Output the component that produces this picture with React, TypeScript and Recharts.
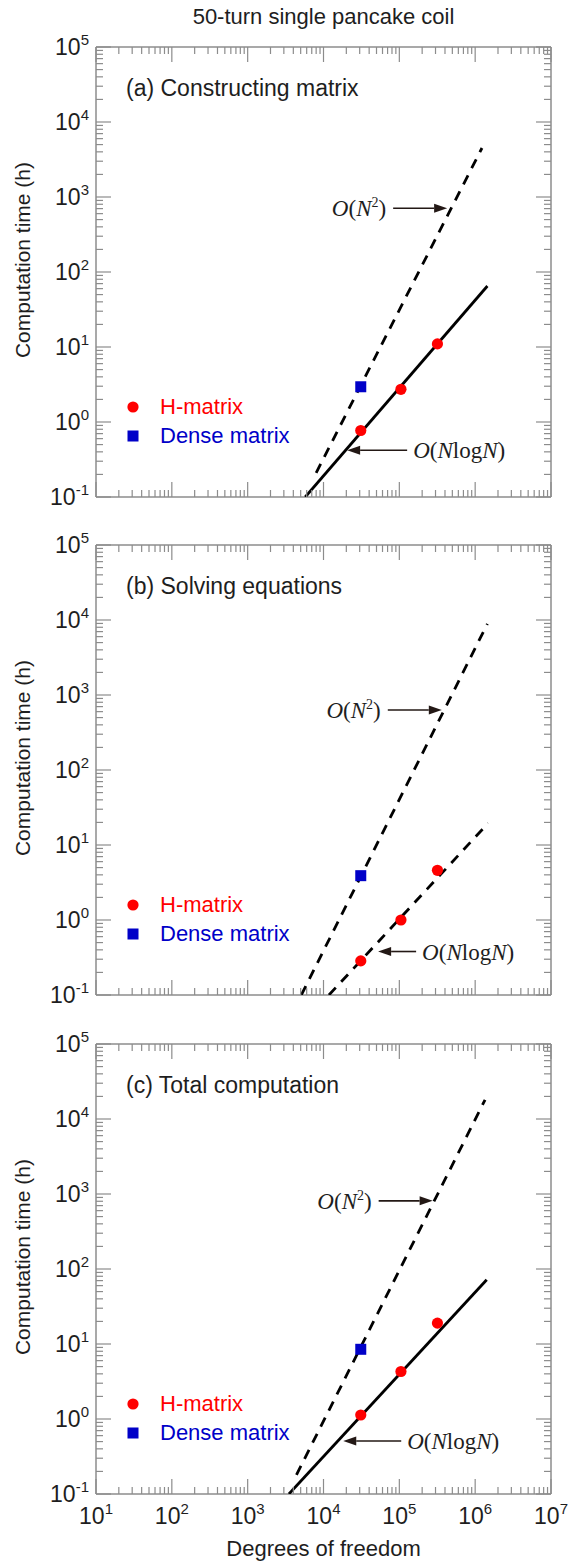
import React from 'react';
import { ComposedChart, Scatter, XAxis, YAxis } from 'recharts';

// degrees of freedom of the runs
const dofH = [31000, 105000, 318000];
const dofDense = [31000];

// computation time (h)
const constructH = [0.77, 2.73, 11];
const constructDense = [2.95];
const solveH = [0.285, 1.0, 4.6];
const solveDense = [3.9];
const totalH = [1.13, 4.3, 19];
const totalDense = [8.5];

// guide lines, start and end in (dof, hours)
const constructN2 = { dof: [8000, 1230000], time: [0.21, 4500] };
const constructNlogN = { dof: [5750, 1450000], time: [0.1, 65] };
const solveN2 = { dof: [5100, 1450000], time: [0.1, 8900] };
const solveNlogN = { dof: [11800, 1480000], time: [0.1, 19.5] };
const totalN2 = { dof: [4400, 1350000], time: [0.18, 18000] };
const totalNlogN = { dof: [3500, 1420000], time: [0.1, 72] };

// arrow tips of the O(...) notes
const constructTips = { n2: [427000, 708], nlogn: [20500, 0.42] };
const solveTips = { n2: [363000, 630], nlogn: [52500, 0.38] };
const totalTips = { n2: [275000, 810], nlogn: [18200, 0.51] };

// axis decades
const xExp = [1, 2, 3, 4, 5, 6, 7];
const yExp = [-1, 0, 1, 2, 3, 4, 5];

const GRAY = '#8c8c8c';
const INK = '#1e1e1e';
const RED = '#ff0000';
const BLUE = '#0000c8';
const SANS = '"Liberation Sans", Arial, sans-serif';
const SERIF = '"Liberation Serif", "Times New Roman", serif';

const decadeTicks = (exps: number[]) => {
  const out: number[] = [];
  exps.forEach((e, i) => {
    const b = Math.pow(10, e);
    out.push(b);
    if (i < exps.length - 1) for (let m = 2; m <= 9; m++) out.push(m * b);
  });
  return out;
};
const xTicks = decadeTicks(xExp);
const yTicks = decadeTicks(yExp);

const isMajor = (v: number) => Math.abs(Math.log10(v) - Math.round(Math.log10(v))) < 1e-6;
const expOf = (v: number) => Math.round(Math.log10(v));

const zip = (xs: number[], ys: number[]) => xs.map((x, i) => ({ x, y: ys[i] }));

const bottomTick = (showLabel: boolean) => (p: any) => {
  const { x, y, payload } = p;
  const major = isMajor(payload.value);
  return (
    <g>
      <line x1={x} x2={x} y1={y} y2={y - (major ? 15 : 7)} stroke={GRAY} strokeWidth={1.2} />
      {showLabel && major && (
        <text x={x} y={y + 30} textAnchor="middle" fontSize={23} fill={INK} fontFamily={SANS}>
          10<tspan dy={-10} fontSize={15}>{expOf(payload.value)}</tspan>
        </text>
      )}
    </g>
  );
};

const topTick = (p: any) => {
  const { x, y, payload } = p;
  const major = isMajor(payload.value);
  return <line x1={x} x2={x} y1={y} y2={y + (major ? 15 : 7)} stroke={GRAY} strokeWidth={1.2} />;
};

const leftTick = (p: any) => {
  const { x, y, payload } = p;
  const major = isMajor(payload.value);
  return (
    <g>
      <line x1={x} x2={x + (major ? 15 : 7)} y1={y} y2={y} stroke={GRAY} strokeWidth={1.2} />
      {major && (
        <text x={x - 7} y={y + 8} textAnchor="end" fontSize={23} fill={INK} fontFamily={SANS}>
          10<tspan dy={-10} fontSize={15}>{expOf(payload.value)}</tspan>
        </text>
      )}
    </g>
  );
};

const rightTick = (p: any) => {
  const { x, y, payload } = p;
  const major = isMajor(payload.value);
  return <line x1={x} x2={x - (major ? 15 : 7)} y1={y} y2={y} stroke={GRAY} strokeWidth={1.2} />;
};

function Note({ cx, cy, kind, len }: { cx: number; cy: number; kind: 'n2' | 'nlogn'; len: number }) {
  const head = 13;
  const dir = kind === 'n2' ? 1 : -1; // arrow points right for N^2, left for NlogN
  const tail = cx - dir * len;
  const base = cx - dir * head;
  return (
    <g>
      <line x1={tail} x2={base} y1={cy} y2={cy} stroke="#231815" strokeWidth={1.6} />
      <polygon points={`${cx},${cy} ${base},${cy - 4.5} ${base},${cy + 4.5}`} fill="#231815" />
      {kind === 'n2' ? (
        <text x={tail - 7} y={cy + 8} textAnchor="end" fontSize={23} fill={INK} fontFamily={SERIF}>
          <tspan fontStyle="italic">O</tspan>(<tspan fontStyle="italic">N</tspan>
          <tspan dy={-9} fontSize={14}>2</tspan>
          <tspan dy={9}>)</tspan>
        </text>
      ) : (
        <text x={tail + 6} y={cy + 8} textAnchor="start" fontSize={23} fill={INK} fontFamily={SERIF}>
          <tspan fontStyle="italic">O</tspan>(<tspan fontStyle="italic">N</tspan>log<tspan fontStyle="italic">N</tspan>)
        </text>
      )}
    </g>
  );
}

const Dot = (p: any) => <circle cx={p.cx} cy={p.cy} r={5.6} fill={RED} />;
const Square = (p: any) => <rect x={p.cx - 5.5} y={p.cy - 5.5} width={11} height={11} fill={BLUE} />;
const Empty = () => <g />;

type Guide = { dof: number[]; time: number[] };

interface PanelProps {
  top: number;
  height: number;
  plotTop: number;
  plotBottom: number;
  label: string;
  h: number[];
  dense: number[];
  n2: Guide;
  nlogn: Guide;
  nlognDashed: boolean;
  tips: { n2: number[]; nlogn: number[] };
  nlognLen: number;
  showX: boolean;
}

const PLOT_LEFT = 96;
const PLOT_RIGHT = 551;

function Panel(props: PanelProps) {
  const { top, height, plotTop, plotBottom, label, h, dense, n2, nlogn, nlognDashed, tips, nlognLen, showX } = props;
  // each axis takes 1px of the margin
  const margin = {
    top: plotTop - top - 1,
    bottom: top + height - plotBottom - 1,
    left: PLOT_LEFT - 1,
    right: 571 - PLOT_RIGHT - 1,
  };
  const lineProps = { stroke: '#000', strokeWidth: 2.8, fill: 'none' };
  const dashed = { ...lineProps, strokeDasharray: '10 8' };
  const legendY = plotBottom - top - 90;
  return (
    <div style={{ position: 'absolute', left: 0, top, width: 571, height }}>
      <ComposedChart width={571} height={height} margin={margin}>
        <XAxis xAxisId="b" dataKey="x" type="number" scale="log" domain={[10, 1e7]} allowDataOverflow
          ticks={xTicks} interval={0} tickSize={0} tickMargin={0} height={1} tickLine={false}
          tick={bottomTick(showX)} axisLine={{ stroke: GRAY, strokeWidth: 1.5 }} />
        <XAxis xAxisId="t" orientation="top" dataKey="x" type="number" scale="log" domain={[10, 1e7]} allowDataOverflow
          ticks={xTicks} interval={0} tickSize={0} tickMargin={0} height={1} tickLine={false}
          tick={topTick} axisLine={{ stroke: GRAY, strokeWidth: 1.5 }} />
        <YAxis yAxisId="l" dataKey="y" type="number" scale="log" domain={[0.1, 1e5]} allowDataOverflow
          ticks={yTicks} interval={0} tickSize={0} tickMargin={0} width={1} tickLine={false}
          tick={leftTick} axisLine={{ stroke: GRAY, strokeWidth: 1.5 }} />
        <YAxis yAxisId="r" orientation="right" dataKey="y" type="number" scale="log" domain={[0.1, 1e5]} allowDataOverflow
          ticks={yTicks} interval={0} tickSize={0} tickMargin={0} width={1} tickLine={false}
          tick={rightTick} axisLine={{ stroke: GRAY, strokeWidth: 1.5 }} />
        <Scatter xAxisId="b" yAxisId="l" data={zip(n2.dof, n2.time)} line={dashed} shape={Empty} isAnimationActive={false} />
        <Scatter xAxisId="b" yAxisId="l" data={zip(nlogn.dof, nlogn.time)} line={nlognDashed ? dashed : lineProps} shape={Empty} isAnimationActive={false} />
        <Scatter xAxisId="b" yAxisId="l" data={zip(dofDense, dense)} shape={Square} isAnimationActive={false} />
        <Scatter xAxisId="b" yAxisId="l" data={zip(dofH, h)} shape={Dot} isAnimationActive={false} />
        <Scatter xAxisId="b" yAxisId="l" data={[{ x: tips.n2[0], y: tips.n2[1] }]}
          shape={(p: any) => <Note cx={p.cx} cy={p.cy} kind="n2" len={54} />} isAnimationActive={false} />
        <Scatter xAxisId="b" yAxisId="l" data={[{ x: tips.nlogn[0], y: tips.nlogn[1] }]}
          shape={(p: any) => <Note cx={p.cx} cy={p.cy} kind="nlogn" len={nlognLen} />} isAnimationActive={false} />
      </ComposedChart>
      <div style={{ position: 'absolute', left: 126, top: plotTop - top + 28, fontSize: 23, color: INK, whiteSpace: 'nowrap', lineHeight: '26px' }}>
        {label}
      </div>
      <div style={{ position: 'absolute', left: 122, top: legendY - 13, fontSize: 22, lineHeight: '26px', whiteSpace: 'nowrap' }}>
        <div style={{ display: 'flex', alignItems: 'center', color: RED }}>
          <svg width={22} height={26}><circle cx={11} cy={13} r={5.6} fill={RED} /></svg>
          <span style={{ marginLeft: 16 }}>H-matrix</span>
        </div>
        <div style={{ display: 'flex', alignItems: 'center', color: BLUE, marginTop: 3 }}>
          <svg width={22} height={26}><rect x={5.5} y={7.5} width={11} height={11} fill={BLUE} /></svg>
          <span style={{ marginLeft: 16 }}>Dense matrix</span>
        </div>
      </div>
      <div style={{ position: 'absolute', left: 23, top: (plotTop + plotBottom) / 2 - top - 12, width: 0, height: 0 }}>
        <div style={{ position: 'absolute', left: -150, top: -12, width: 300, textAlign: 'center', fontSize: 21, lineHeight: '24px', color: INK, transform: 'rotate(-90deg)', whiteSpace: 'nowrap' }}>
          Computation time (h)
        </div>
      </div>
    </div>
  );
}

export default function App() {
  return (
    <div style={{ position: 'absolute', left: 0, top: 0, width: 571, height: 1564, background: '#fff', fontFamily: SANS, overflow: 'hidden' }}>
      <div style={{ position: 'absolute', left: PLOT_LEFT, top: 4, width: PLOT_RIGHT - PLOT_LEFT, textAlign: 'center', fontSize: 22, color: INK, lineHeight: '26px' }}>
        50-turn single pancake coil
      </div>
      <Panel top={0} height={530} plotTop={47} plotBottom={497} label="(a) Constructing matrix"
        h={constructH} dense={constructDense} n2={constructN2} nlogn={constructNlogN} nlognDashed={false}
        tips={constructTips} nlognLen={60} showX={false} />
      <Panel top={505} height={520} plotTop={545} plotBottom={995} label="(b) Solving equations"
        h={solveH} dense={solveDense} n2={solveN2} nlogn={solveNlogN} nlognDashed={true}
        tips={solveTips} nlognLen={38} showX={false} />
      <Panel top={1004} height={560} plotTop={1044} plotBottom={1494} label="(c) Total computation"
        h={totalH} dense={totalDense} n2={totalN2} nlogn={totalNlogN} nlognDashed={false}
        tips={totalTips} nlognLen={58} showX={true} />
      <div style={{ position: 'absolute', left: PLOT_LEFT, top: 1536, width: PLOT_RIGHT - PLOT_LEFT, textAlign: 'center', fontSize: 22, color: INK, lineHeight: '26px' }}>
        Degrees of freedom
      </div>
    </div>
  );
}
